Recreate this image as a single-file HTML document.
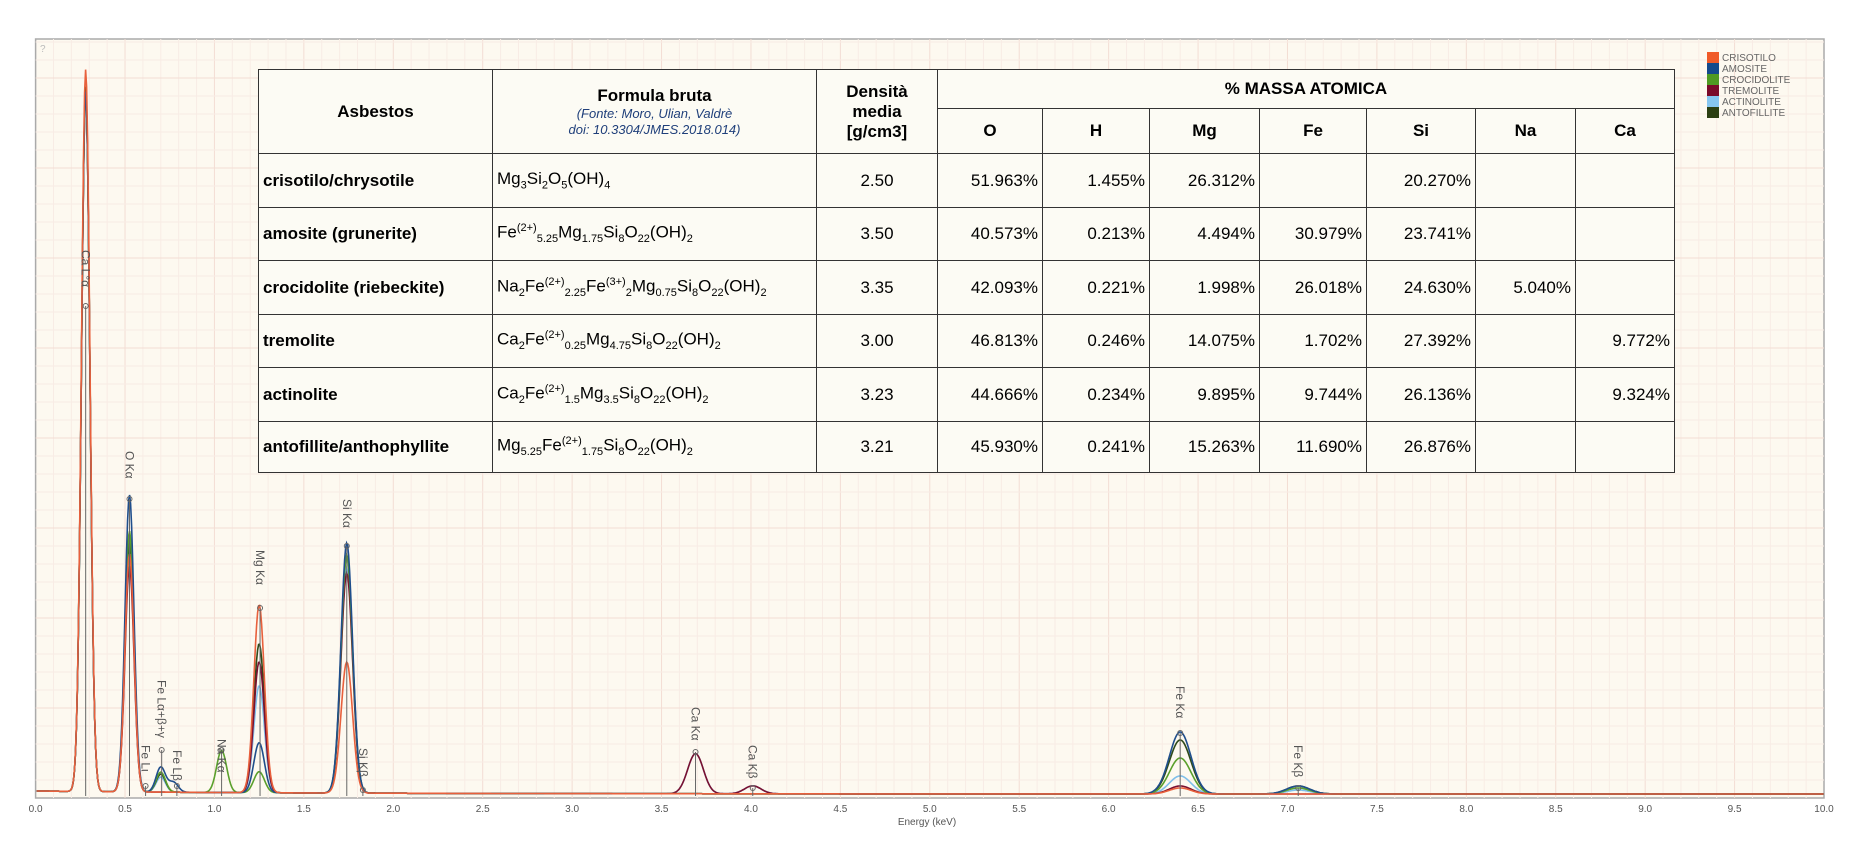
<!DOCTYPE html>
<html><head><meta charset="utf-8"><style>
body{margin:0;background:#fff;width:1853px;height:864px;overflow:hidden;font-family:"Liberation Sans",sans-serif}
#c{position:absolute;left:0;top:0}
table{position:absolute;left:258px;top:69px;border-collapse:collapse;background:#fcfbf4;font-family:"Liberation Sans",sans-serif;font-size:17px;color:#000}
td,th{border:1.3px solid #333;padding:0 4px;white-space:nowrap}
th{font-weight:bold;text-align:center}
td.n{text-align:right}
td.c{text-align:center}
td.b{font-weight:bold}
sub,sup{font-size:11px}
.src{font-weight:normal;font-style:italic;color:#1f3f7a;font-size:13px;line-height:16px}
</style></head><body>
<svg id="c" width="1853" height="864" xmlns="http://www.w3.org/2000/svg"></svg>
<table>
<tr style="height:39px"><th rowspan="2" style="width:225px">Asbestos</th><th rowspan="2" style="width:315px">Formula bruta<div class="src">(Fonte: Moro, Ulian, Valdrè<br>doi: 10.3304/JMES.2018.014)</div></th><th rowspan="2" style="width:112px">Densità<br>media<br>[g/cm3]</th><th colspan="8">% MASSA ATOMICA</th></tr>
<tr style="height:45px"><th style="width:96px">O</th><th style="width:98px">H</th><th style="width:101px">Mg</th><th style="width:98px">Fe</th><th style="width:100px">Si</th><th style="width:91px">Na</th><th style="width:90px">Ca</th></tr>
<tr style="height:54px"><td class="b">crisotilo/chrysotile</td><td>Mg<sub>3</sub>Si<sub>2</sub>O<sub>5</sub>(OH)<sub>4</sub></td><td class="c">2.50</td><td class="n">51.963%</td><td class="n">1.455%</td><td class="n">26.312%</td><td></td><td class="n">20.270%</td><td></td><td></td></tr>
<tr style="height:53px"><td class="b">amosite (grunerite)</td><td>Fe<sup>(2+)</sup><sub>5.25</sub>Mg<sub>1.75</sub>Si<sub>8</sub>O<sub>22</sub>(OH)<sub>2</sub></td><td class="c">3.50</td><td class="n">40.573%</td><td class="n">0.213%</td><td class="n">4.494%</td><td class="n">30.979%</td><td class="n">23.741%</td><td></td><td></td></tr>
<tr style="height:54px"><td class="b">crocidolite (riebeckite)</td><td>Na<sub>2</sub>Fe<sup>(2+)</sup><sub>2.25</sub>Fe<sup>(3+)</sup><sub>2</sub>Mg<sub>0.75</sub>Si<sub>8</sub>O<sub>22</sub>(OH)<sub>2</sub></td><td class="c">3.35</td><td class="n">42.093%</td><td class="n">0.221%</td><td class="n">1.998%</td><td class="n">26.018%</td><td class="n">24.630%</td><td class="n">5.040%</td><td></td></tr>
<tr style="height:53px"><td class="b">tremolite</td><td>Ca<sub>2</sub>Fe<sup>(2+)</sup><sub>0.25</sub>Mg<sub>4.75</sub>Si<sub>8</sub>O<sub>22</sub>(OH)<sub>2</sub></td><td class="c">3.00</td><td class="n">46.813%</td><td class="n">0.246%</td><td class="n">14.075%</td><td class="n">1.702%</td><td class="n">27.392%</td><td></td><td class="n">9.772%</td></tr>
<tr style="height:54px"><td class="b">actinolite</td><td>Ca<sub>2</sub>Fe<sup>(2+)</sup><sub>1.5</sub>Mg<sub>3.5</sub>Si<sub>8</sub>O<sub>22</sub>(OH)<sub>2</sub></td><td class="c">3.23</td><td class="n">44.666%</td><td class="n">0.234%</td><td class="n">9.895%</td><td class="n">9.744%</td><td class="n">26.136%</td><td></td><td class="n">9.324%</td></tr>
<tr style="height:51px"><td class="b">antofillite/anthophyllite</td><td>Mg<sub>5.25</sub>Fe<sup>(2+)</sup><sub>1.75</sub>Si<sub>8</sub>O<sub>22</sub>(OH)<sub>2</sub></td><td class="c">3.21</td><td class="n">45.930%</td><td class="n">0.241%</td><td class="n">15.263%</td><td class="n">11.690%</td><td class="n">26.876%</td><td></td><td></td></tr>
</table>
<script>
const svg=document.getElementById('c');let s='';
const L=35.6,R=1824,T=39,B=798,BASE=796,k=(R-L)/10;
const X=e=>L+e*k;
s+=`<rect x="${L}" y="${T}" width="${R-L}" height="${B-T}" fill="#fdf9f0" stroke="#aaa" stroke-width="1.5"/>`;
for(let i=1;i<100;i++){const x=X(i/10);s+=`<line x1="${x}" y1="${T}" x2="${x}" y2="${B}" stroke="${i%5?'#f8ece5':'#f3ddd4'}" stroke-width="1"/>`;}
for(let y=B-18,i=1;y>T;y-=18,i++){s+=`<line x1="${L}" y1="${y}" x2="${R}" y2="${y}" stroke="${i%5?'#f8ece5':'#f3ddd4'}" stroke-width="1"/>`;}
s+=`<text x="40" y="52" font-size="10" fill="#bbb">?</text>`;
for(let i=0;i<=20;i++){s+=`<text x="${X(i/2)}" y="812" font-size="10" fill="#555" text-anchor="middle">${(i/2).toFixed(1)}</text>`;}
s+=`<text x="927" y="825" font-size="10" fill="#555" text-anchor="middle">Energy (keV)</text>`;
const ser=[
['#7fbfea',[[0.28,700],[0.525,240],[0.70,15],[1.25,107],[1.74,225],[3.69,40],[4.01,8],[6.40,18],[7.06,4]]],
['#2e4a1a',[[0.28,705],[0.525,250],[0.70,18],[1.25,149],[1.74,238],[6.40,54],[7.06,8]]],
['#7a1030',[[0.28,700],[0.525,226],[1.25,131],[1.74,220],[3.69,40],[4.01,8],[6.40,8]]],
['#5aa02c',[[0.28,700],[0.525,261],[0.70,20],[1.04,42],[1.25,21],[1.74,238],[6.40,36],[7.06,6]]],
['#1f4e8c',[[0.28,700],[0.525,297],[0.70,25],[0.77,10],[1.25,50],[1.74,250],[6.40,62],[7.06,8]]],
['#e8603c',[[0.28,722],[0.525,238],[1.25,188],[1.74,131],[6.40,6]]]];
for(const [col,pk] of ser){let d='';for(let x=L+1;x<R;x+=1){const e=(x-L)/k;let h=2+3*Math.exp(-e/1.5);for(const[p,a]of pk){const sg=0.022+0.006*p;h+=a*Math.exp(-((e-p)**2)/(2*sg*sg));}d+=(d?'L':'M')+x.toFixed(1)+','+(BASE-h).toFixed(1);}s+=`<path d="${d}" fill="none" stroke="${col}" stroke-width="1.6"/>`;}
const lab=[['Ca L°α',0.28,250,306],['O Kα',0.525,451,499],['Fe Lα+β+γ',0.705,680,750],['Fe Lι',0.615,745,786],['Fe Lβ',0.79,750,786],['Na Kα',1.04,739,750],['Mg Kα',1.255,550,608],['Si Kα',1.74,499,546],['Si Kβ',1.83,748,790],['Ca Kα',3.69,707,752],['Ca Kβ',4.01,745,788],['Fe Kα',6.40,686,733],['Fe Kβ',7.06,745,788]];
for(const[t,e,y,cy] of lab){const x=X(e);s+=`<line x1="${x}" y1="${cy}" x2="${x}" y2="${BASE}" stroke="#666" stroke-width="1"/><circle cx="${x}" cy="${cy}" r="2.5" fill="none" stroke="#666"/><text transform="translate(${x-4},${y}) rotate(90)" font-size="12" fill="#555">${t}</text>`;}
const lg=[['#f05a28','CRISOTILO'],['#144a8c','AMOSITE'],['#4f9a22','CROCIDOLITE'],['#7a0a2a','TREMOLITE'],['#86c6f0','ACTINOLITE'],['#2b3f12','ANTOFILLITE']];
lg.forEach(([c,t],i)=>{const y=52+i*11;s+=`<rect x="1707" y="${y}" width="12" height="11" fill="${c}"/><text x="1722" y="${y+9}" font-size="10" fill="#666">${t}</text>`;});
svg.innerHTML=s;
</script>
</body></html>
